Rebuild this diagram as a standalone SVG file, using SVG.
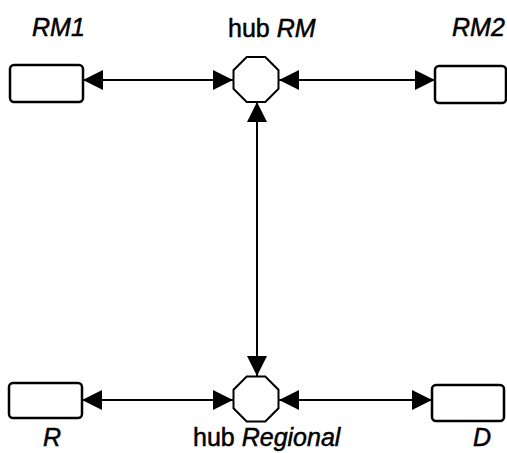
<svg xmlns="http://www.w3.org/2000/svg" width="507" height="453" viewBox="0 0 507 453">
<style>
  .box { fill: #ffffff; stroke: #000000; stroke-width: 2.5; }
  .hub { fill: #ffffff; stroke: #000000; stroke-width: 2; }
  .conn { stroke: #000000; stroke-width: 2; fill: none; marker-start: url(#arr); marker-end: url(#arr); }
  .lbl { font-family: "Liberation Sans", Arial, sans-serif; font-size: 25px; font-weight: normal; fill: #000000; stroke: #000000; stroke-width: 0.5; }
  .it { font-style: italic; }
</style>
<defs>
  <marker id="arr" viewBox="0 0 20 20" refX="20" refY="10" markerWidth="20" markerHeight="20" markerUnits="userSpaceOnUse" orient="auto-start-reverse">
    <path d="M0,0 L20,10 L0,20 z" fill="#000000"/>
  </marker>
</defs>
<rect width="507" height="453" fill="#ffffff"/>
<g id="connectors">
  <line class="conn" x1="83" y1="80" x2="233" y2="80"/>
  <line class="conn" x1="279" y1="80" x2="435" y2="80"/>
  <line class="conn" x1="257" y1="102" x2="257" y2="376"/>
  <line class="conn" x1="82" y1="400" x2="233" y2="400"/>
  <line class="conn" x1="279" y1="400" x2="432" y2="400"/>
</g>
<g id="RM1">
  <rect class="box" x="10" y="65" width="73" height="37" rx="4"/>
  <text class="lbl it" x="32" y="36">RM1</text>
</g>
<g id="hubRM">
  <polygon class="hub" points="246.7,57 265.3,57 278.5,70.2 278.5,88.8 265.3,102 246.7,102 233.5,88.8 233.5,70.2"/>
  <text class="lbl" x="228" y="37">hub <tspan class="it">RM</tspan></text>
</g>
<g id="RM2">
  <rect class="box" x="435" y="66" width="71" height="37" rx="4"/>
  <text class="lbl it" x="452" y="36">RM2</text>
</g>
<g id="R">
  <rect class="box" x="9" y="383" width="73" height="35" rx="4"/>
  <text class="lbl it" x="43" y="446">R</text>
</g>
<g id="hubRegional">
  <polygon class="hub" points="246.7,376.5 265.3,376.5 278.5,389.7 278.5,408.3 265.3,421.5 246.7,421.5 233.5,408.3 233.5,389.7"/>
  <text class="lbl" x="193" y="446">hub <tspan class="it">Regional</tspan></text>
</g>
<g id="D">
  <rect class="box" x="432" y="385" width="72" height="36" rx="4"/>
  <text class="lbl it" x="473" y="446">D</text>
</g>
</svg>
